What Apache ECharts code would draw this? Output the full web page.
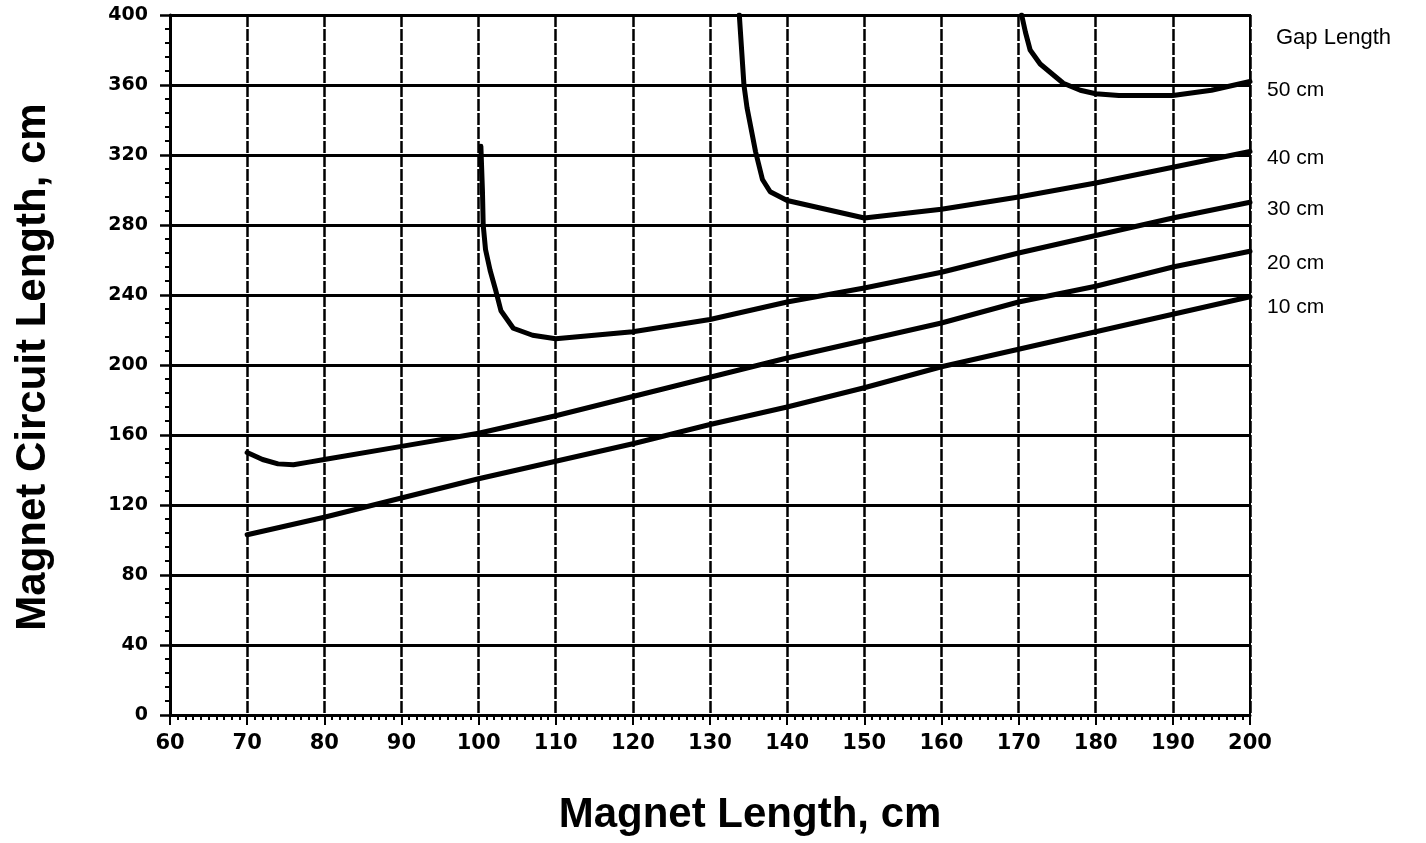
<!DOCTYPE html>
<html>
<head>
<meta charset="utf-8">
<script src="https://cdn.jsdelivr.net/npm/echarts@6/dist/echarts.min.js"></script>
<style>
  html, body { margin: 0; padding: 0; background: #fff; }
  #chart { width: 1426px; height: 843px; }
</style>
</head>
<body>
<div id="chart"></div>
<script>
// ---- Data ----
const xTicks = [60, 70, 80, 90, 100, 110, 120, 130, 140, 150, 160, 170, 180, 190, 200];
const yTicks = [0, 40, 80, 120, 160, 200, 240, 280, 320, 360, 400];

const gapNames = ['50 cm', '40 cm', '30 cm', '20 cm', '10 cm'];

const gap10X = [70, 80, 90, 100, 110, 120, 130, 140, 150, 160, 170, 180, 190, 200];
const gap10Y = [103, 113, 124, 135, 145, 155, 166, 176, 187, 199, 209, 219, 229, 239];

const gap20X = [70, 72, 74, 76, 78, 80, 90, 100, 110, 120, 130, 140, 150, 160, 170, 180, 190, 200];
const gap20Y = [150, 146, 143.5, 143, 144.5, 146, 153.5, 161, 171, 182, 193, 204, 214, 224, 236, 245, 256, 265];

const gap30X = [100.3, 100.5, 100.6, 100.9, 101.5, 102.2, 102.9, 104.5, 107, 110, 120, 130, 140, 150, 160, 170, 180, 190, 200];
const gap30Y = [325, 300, 280, 266, 254, 243, 231, 221, 217, 215, 219, 226, 236, 244, 253, 264, 274, 284, 293];

const gap40X = [133.8, 134.4, 134.8, 135.9, 136.8, 137.8, 140, 150, 160, 170, 180, 190, 200];
const gap40Y = [400, 360, 347, 322, 306, 299, 294, 284, 289, 296, 304, 313, 322];

const gap50X = [170.4, 170.9, 171.5, 172.8, 175.8, 178, 180, 183, 190, 195, 200];
const gap50Y = [400, 390, 380, 372, 361, 357, 355, 354, 354, 357, 362];

// ---- Build ----
const labelShift = { '50 cm': 9, '40 cm': 7, '30 cm': 7, '20 cm': 12, '10 cm': 10 };

function pairs(xs, ys) { return xs.map((x, i) => [x, ys[i]]); }
const seriesData = {
  '50 cm': pairs(gap50X, gap50Y),
  '40 cm': pairs(gap40X, gap40Y),
  '30 cm': pairs(gap30X, gap30Y),
  '20 cm': pairs(gap20X, gap20Y),
  '10 cm': pairs(gap10X, gap10Y)
};

const chart = echarts.init(document.getElementById('chart'), null, { renderer: 'canvas' });

const series = gapNames.map(name => ({
  name: name,
  type: 'line',
  data: seriesData[name],
  showSymbol: false,
  symbol: 'none',
  smooth: false,
  clip: true,
  lineStyle: { color: '#000', width: 5, join: 'round', cap: 'round' },
  endLabel: {
    show: true,
    formatter: '{a}',
    color: '#000',
    fontFamily: 'Liberation Sans, Arial, sans-serif',
    fontSize: 21,
    distance: 17,
    offset: [0, labelShift[name]]
  },
  emphasis: { disabled: true },
  z: 5
}));

const option = {
  animation: false,
  backgroundColor: '#fff',
  grid: {
    left: 170, right: 176, top: 15, bottom: 128,
    show: true, borderColor: '#000', borderWidth: 2, backgroundColor: 'transparent'
  },
  xAxis: {
    type: 'value',
    min: xTicks[0],
    max: xTicks[xTicks.length - 1],
    interval: 10,
    axisLine: { show: true, onZero: false, lineStyle: { color: '#000', width: 3 } },
    axisTick: { show: true, inside: false, length: 10, lineStyle: { color: '#000', width: 2 } },
    minorTick: { show: true, splitNumber: 10, length: 5, lineStyle: { color: '#000', width: 2 } },
    axisLabel: {
      color: '#000',
      fontFamily: 'DejaVu Sans, sans-serif',
      fontWeight: 'bold',
      fontSize: 21,
      margin: 18,
      formatter: v => xTicks.includes(v) ? String(v) : ''
    },
    splitLine: { show: true, lineStyle: { color: '#000', width: 2.5, type: [12, 2] } }
  },
  yAxis: {
    type: 'value',
    min: yTicks[0],
    max: yTicks[yTicks.length - 1],
    interval: 40,
    axisLine: { show: true, onZero: false, lineStyle: { color: '#000', width: 3 } },
    axisTick: { show: true, inside: false, length: 10, lineStyle: { color: '#000', width: 2.5 } },
    minorTick: { show: true, splitNumber: 5, length: 5, lineStyle: { color: '#000', width: 2 } },
    axisLabel: {
      color: '#000',
      fontFamily: 'DejaVu Sans, sans-serif',
      fontWeight: 'bold',
      fontSize: 19,
      margin: 22,
      formatter: v => yTicks.includes(v) ? String(v) : ''
    },
    splitLine: { show: true, lineStyle: { color: '#000', width: 3 } }
  },
  graphic: [
    {
      type: 'text',
      left: 1276, top: 27,
      style: { text: 'Gap Length', fill: '#000', font: '22px "Liberation Sans", Arial, sans-serif' },
      z: 10
    },
    {
      type: 'text',
      x: 750, y: 815,
      style: {
        text: 'Magnet Length, cm', fill: '#000',
        font: 'bold 42px "Liberation Sans", Arial, sans-serif',
        align: 'center', verticalAlign: 'middle'
      },
      z: 10
    },
    {
      type: 'text',
      x: 33, y: 367,
      rotation: Math.PI / 2,
      style: {
        text: 'Magnet Circuit Length, cm', fill: '#000',
        font: 'bold 42px "Liberation Sans", Arial, sans-serif',
        align: 'center', verticalAlign: 'middle'
      },
      z: 10
    }
  ],
  series: series
};

chart.setOption(option);
</script>
</body>
</html>
